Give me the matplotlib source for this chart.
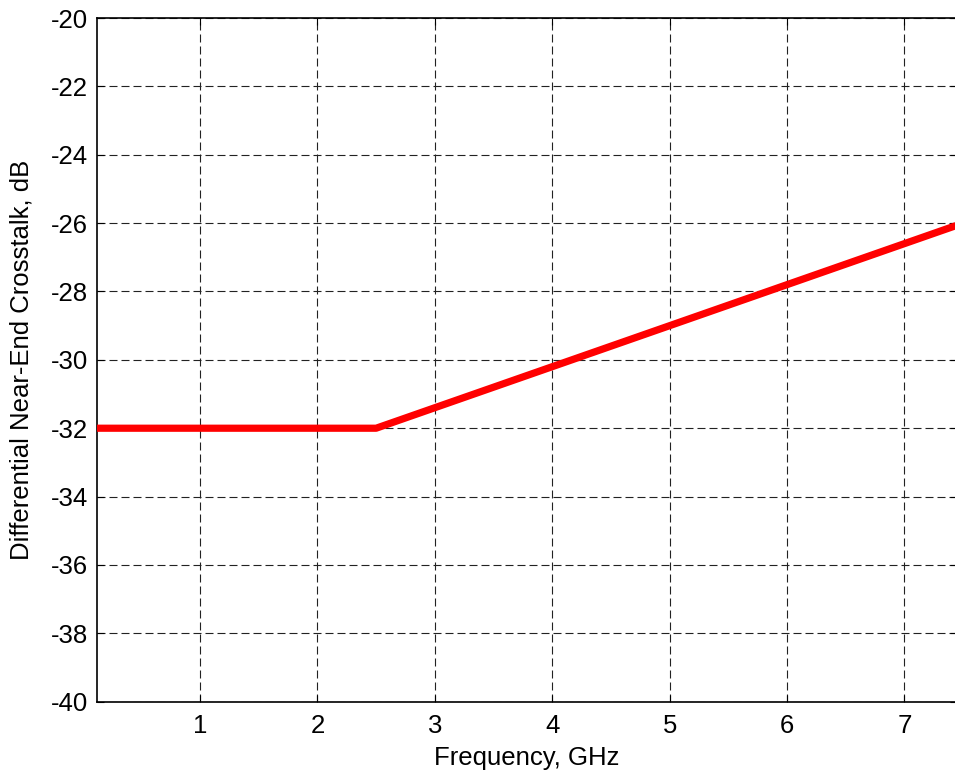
import matplotlib
matplotlib.use("Agg")
import matplotlib.pyplot as plt

# data
freq_ghz = [0.1, 2.5, 7.5]
next_db = [-32.0, -32.0, -26.0]
x_ticks = [1, 2, 3, 4, 5, 6, 7]
y_ticks = list(range(-40, -18, 2))

plt.rcParams['font.family'] = ['Liberation Sans', 'DejaVu Sans']
plt.rcParams['axes.unicode_minus'] = False

W, H = 955, 772
fig = plt.figure(figsize=(W / 100, H / 100), dpi=100)

# axes in pixels: left 96.7, right ~957 (just past the edge), top 18, bottom 701.7
left, right, top, bottom = 96.7, 957.3, 18.0, 701.7
ax = fig.add_axes([left / W, 1 - bottom / H, (right - left) / W, (bottom - top) / H])

ax.plot(freq_ghz, next_db, color='#ff0000', lw=5.2, solid_capstyle='butt', zorder=3)

ax.set_xlim(0.12, 7.45)
ax.set_ylim(-40, -20)
ax.set_xticks(x_ticks)
ax.set_yticks(y_ticks)
ax.grid(True, color='#222222', ls=(0, (7.2, 3.6)), lw=0.8)
ax.tick_params(direction='in', length=5, labelsize=18.5, top=True, right=True)
ax.tick_params(axis='x', pad=9)
ax.tick_params(axis='y', pad=6)
for s in ax.spines.values():
    s.set_linewidth(1.2)

ax.set_xlabel('Frequency, GHz', fontsize=18.5, va='baseline')
ax.xaxis.set_label_coords(0.5, -0.0926)
ax.set_ylabel('Differential Near-End Crosstalk, dB', fontsize=18.5, va='baseline')
ax.yaxis.set_label_coords(-0.0792, 0.5)

fig.savefig('out.png', dpi=100)
